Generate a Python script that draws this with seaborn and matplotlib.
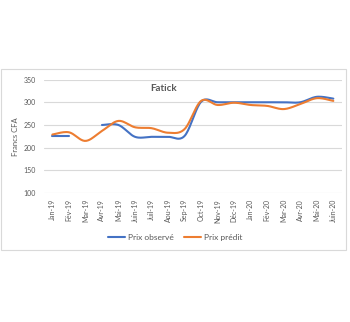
import numpy as np
import pandas as pd
import matplotlib
matplotlib.use("Agg")
import matplotlib.pyplot as plt
from matplotlib.patches import Rectangle
from matplotlib.lines import Line2D
import seaborn as sns

months = ["Jan-19", "Fév-19", "Mar-19", "Avr-19", "Mai-19", "Juin-19", "Juil-19",
          "Aou-19", "Sep-19", "Oct-19", "Nov-19", "Déc-19", "Jan-20", "Fév-20",
          "Mar-20", "Avr-20", "Mai-20", "Juin-20"]
prix_observe = [225, 225, np.nan, 250, 250, 224, 224, 224, 226, 301, 300, 300,
                300, 300, 300, 300, 312, 308]
prix_predit = [229, 234, 215, 237, 259, 245, 243, 233, 241, 303, 294, 299,
               294, 292, 285, 296, 309, 303]
series_names = ["Prix observé", "Prix prédit"]
colors = ["#4472C4", "#ED7D31"]
yticks = [100, 150, 200, 250, 300, 350]


def smooth(x, y, n=20):
    """Excel-like smoothed line rendering (Catmull-Rom Bezier) per contiguous segment."""
    x = np.asarray(x, float)
    y = np.asarray(y, float)
    xs_all, ys_all, seg_all = [], [], []
    valid = ~np.isnan(y)
    seg_id = 0
    i = 0
    while i < len(y):
        if not valid[i]:
            i += 1
            continue
        j = i
        while j < len(y) and valid[j]:
            j += 1
        px, py = x[i:j], y[i:j]
        if len(px) == 1:
            xs_all += [px[0]]; ys_all += [py[0]]; seg_all += [seg_id]
        for k in range(len(px) - 1):
            p0 = (px[max(k - 1, 0)], py[max(k - 1, 0)])
            p1 = (px[k], py[k])
            p2 = (px[k + 1], py[k + 1])
            p3 = (px[min(k + 2, len(px) - 1)], py[min(k + 2, len(px) - 1)])
            c1 = (p1[0] + (p2[0] - p0[0]) / 6, p1[1] + (p2[1] - p0[1]) / 6)
            c2 = (p2[0] - (p3[0] - p1[0]) / 6, p2[1] - (p3[1] - p1[1]) / 6)
            t = np.linspace(0, 1, n, endpoint=(k == len(px) - 2))
            bx = (1 - t) ** 3 * p1[0] + 3 * (1 - t) ** 2 * t * c1[0] + 3 * (1 - t) * t ** 2 * c2[0] + t ** 3 * p2[0]
            by = (1 - t) ** 3 * p1[1] + 3 * (1 - t) ** 2 * t * c1[1] + 3 * (1 - t) * t ** 2 * c2[1] + t ** 3 * p2[1]
            xs_all += list(bx); ys_all += list(by); seg_all += [seg_id] * len(bx)
        seg_id += 1
        i = j
    return xs_all, ys_all, seg_all


rows = []
for name, vals in zip(series_names, [prix_observe, prix_predit]):
    xs, ys, segs = smooth(range(len(months)), vals)
    for a, b, s in zip(xs, ys, segs):
        rows.append({"x": a, "y": b, "serie": name, "seg": f"{name}-{s}"})
df = pd.DataFrame(rows)

sns.set_theme(style="white")
plt.rcParams["font.family"] = ["Lato", "DejaVu Sans"]

fig = plt.figure(figsize=(3.5, 3.22), dpi=100)
ax = fig.add_axes([0.126, 0.400, 0.850, 0.353])

for name, col in zip(series_names, colors):
    sub = df[df["serie"] == name]
    for seg, g in sub.groupby("seg"):
        sns.lineplot(data=g, x="x", y="y", ax=ax, color=col, linewidth=1.5,
                     sort=False, estimator=None, legend=False)

ax.set_xlim(-0.5, len(months) - 0.5)
ax.set_ylim(100, 350)
ax.set_yticks(yticks)
ax.set_yticklabels([str(v) for v in yticks], fontsize=5, color="#595959")
ax.set_xticks(range(len(months)))
ax.set_xticklabels(months, rotation=90, fontsize=5, color="#595959")
ax.tick_params(axis="both", length=0, pad=4)
ax.tick_params(axis="y", pad=6)
ax.grid(axis="y", color="#D9D9D9", linewidth=0.8)
for s in ax.spines.values():
    s.set_visible(False)
ax.set_xlabel("")
ax.set_ylabel("Francs CFA", fontsize=5.5, color="#595959", labelpad=3)
ax.text(0.40, 0.925, "Fatick", transform=ax.transAxes, ha="center", va="center",
        fontsize=7, fontweight="bold", color="#595959")

handles = [Line2D([0], [0], color=c, linewidth=1.5) for c in colors]
fig.legend(handles, series_names, loc="center", bbox_to_anchor=(0.5, 0.262),
           ncol=2, frameon=False, fontsize=6, handlelength=2.0,
           columnspacing=1.3, handletextpad=0.35, labelcolor="#595959")

fig.patches.append(Rectangle((1 / 350, 1 - 250 / 322), 345 / 350, 181 / 322,
                             transform=fig.transFigure, fill=False,
                             edgecolor="#D9D9D9", linewidth=0.8))

fig.savefig("out.png", dpi=100, facecolor="white")
